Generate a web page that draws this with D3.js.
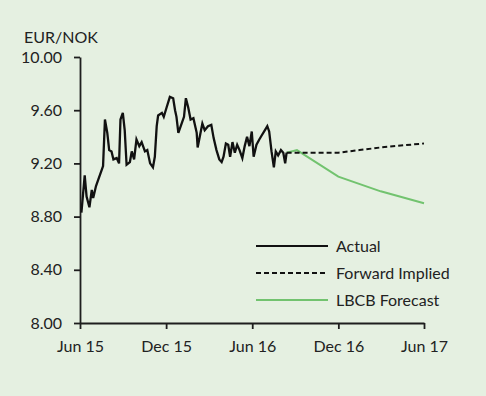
<!DOCTYPE html>
<html>
<head>
<meta charset="utf-8">
<script src="https://cdn.jsdelivr.net/npm/d3@7"></script>
<style>
    html, body { margin: 0; padding: 0; background: #e5f0e1; }
    svg { display: block; font-family: Lato, "Open Sans", sans-serif; }
    .axis path, .axis line { stroke: #1e1e1e; stroke-width: 1.8; }
    .axis text { fill: #222; font-size: 16px; font-family: Lato, sans-serif; }
</style>
</head>
<body>
<svg id="chart" width="486" height="396"></svg>
<script>
// EUR/NOK actual
let actualDates = [
    "2015-06-04","2015-06-11","2015-06-15","2015-06-21","2015-06-26","2015-06-29","2015-07-05","2015-07-10",
    "2015-07-17","2015-07-20","2015-07-24","2015-07-29","2015-08-02","2015-08-07","2015-08-11","2015-08-18",
    "2015-08-23","2015-08-26","2015-08-31","2015-09-04","2015-09-08","2015-09-15","2015-09-19","2015-09-24",
    "2015-09-29","2015-10-05","2015-10-10","2015-10-17","2015-10-22","2015-10-28","2015-11-03","2015-11-07",
    "2015-11-11","2015-11-14","2015-11-22","2015-11-26","2015-12-02","2015-12-09","2015-12-16","2015-12-20",
    "2015-12-23","2015-12-27","2016-01-02","2016-01-08","2016-01-12","2016-01-17","2016-01-22","2016-01-28",
    "2016-02-04","2016-02-06","2016-02-11","2016-02-16","2016-02-21","2016-02-28","2016-03-06","2016-03-11",
    "2016-03-17","2016-03-23","2016-03-28","2016-04-01","2016-04-06","2016-04-11","2016-04-15","2016-04-20",
    "2016-04-25","2016-04-30","2016-05-05","2016-05-11","2016-05-16","2016-05-21","2016-05-26","2016-05-31",
    "2016-06-04","2016-06-10","2016-06-16","2016-06-21","2016-06-28","2016-07-03","2016-07-07","2016-07-12",
    "2016-07-17","2016-07-21","2016-07-26","2016-08-01","2016-08-06","2016-08-10","2016-08-13"
];
let actualValues = [
    8.83, 9.11, 8.95, 8.87, 9.00, 8.94, 9.03, 9.08,
    9.15, 9.18, 9.53, 9.43, 9.30, 9.29, 9.23, 9.24,
    9.20, 9.53, 9.58, 9.45, 9.19, 9.21, 9.29, 9.23,
    9.38, 9.33, 9.36, 9.29, 9.30, 9.20, 9.17, 9.25,
    9.48, 9.56, 9.58, 9.55, 9.62, 9.70, 9.69, 9.60,
    9.55, 9.43, 9.49, 9.55, 9.69, 9.62, 9.53, 9.54,
    9.43, 9.32, 9.41, 9.50, 9.45, 9.48, 9.49, 9.39,
    9.30, 9.23, 9.21, 9.25, 9.35, 9.34, 9.25, 9.36,
    9.28, 9.34, 9.30, 9.24, 9.33, 9.40, 9.33, 9.44,
    9.25, 9.34, 9.38, 9.41, 9.45, 9.48, 9.44, 9.29,
    9.17, 9.29, 9.26, 9.30, 9.28, 9.20, 9.28
];

// forward implied
let forwardDates = ["2016-08-13", "2016-12-01", "2017-01-15", "2017-03-01", "2017-06-01"];
let forwardValues = [9.28, 9.28, 9.30, 9.32, 9.35];

// LBCB forecast
let forecastDates = ["2016-08-13", "2016-09-04", "2016-12-01", "2017-03-01", "2017-06-01"];
let forecastValues = [9.28, 9.30, 9.10, 8.99, 8.90];

let yTicks = [8.0, 8.4, 8.8, 9.2, 9.6, 10.0];
let xTickDates = ["2015-06-01", "2015-12-01", "2016-06-01", "2016-12-01", "2017-06-01"];
let xTickLabels = ["Jun 15", "Dec 15", "Jun 16", "Dec 16", "Jun 17"];

let legendItems = [
    {name: "Actual", color: "#111", dash: null},
    {name: "Forward Implied", color: "#111", dash: "5,3"},
    {name: "LBCB Forecast", color: "#72c36f", dash: null}
];

let parseDate = d3.timeParse("%Y-%m-%d");
let margin = {top: 57, right: 62, bottom: 73, left: 80};
let width = 486;
let height = 396;

let svg = d3.select("#chart");

let xScale = d3.scaleTime()
    .domain([parseDate("2015-06-01"), parseDate("2017-06-01")])
    .range([margin.left, width - margin.right]);
let yScale = d3.scaleLinear()
    .domain([8, 10])
    .range([height - margin.bottom, margin.top]);

function toPoints(dates, values){
    return dates.map((d, i) => ({date: parseDate(d), value: values[i]}));
}

let line = d3.line()
    .x(d => xScale(d.date))
    .y(d => yScale(d.value));

// axes
let yAxis = d3.axisLeft(yScale)
    .tickValues(yTicks)
    .tickFormat(d3.format(".2f"))
    .tickSize(6)
    .tickSizeOuter(0)
    .tickPadding(12);
let xAxis = d3.axisBottom(xScale)
    .tickValues(xTickDates.map(parseDate))
    .tickFormat((d, i) => xTickLabels[i])
    .tickSize(6)
    .tickSizeOuter(0)
    .tickPadding(12);

svg.append("g")
    .attr("class", "y axis")
    .attr("transform", "translate(" + margin.left + ",0)")
    .call(yAxis);
svg.append("g")
    .attr("class", "x axis")
    .attr("transform", "translate(0," + (height - margin.bottom) + ")")
    .call(xAxis);

svg.append("text")
    .attr("x", 24)
    .attr("y", 43)
    .attr("fill", "#222")
    .style("font-size", "16px")
    .text("EUR/NOK");

// series
svg.append("path")
    .datum(toPoints(forecastDates, forecastValues))
    .attr("d", line)
    .attr("fill", "none")
    .attr("stroke", "#72c36f")
    .attr("stroke-width", 2);

svg.append("path")
    .datum(toPoints(forwardDates, forwardValues))
    .attr("d", line)
    .attr("fill", "none")
    .attr("stroke", "#111")
    .attr("stroke-width", 2)
    .attr("stroke-dasharray", "5,3");

svg.append("path")
    .datum(toPoints(actualDates, actualValues))
    .attr("d", line)
    .attr("fill", "none")
    .attr("stroke", "#111")
    .attr("stroke-width", 2.3)
    .attr("stroke-linejoin", "miter");

// legend
let legend = svg.append("g")
    .attr("transform", "translate(256,246)");
let rows = legend.selectAll("g")
    .data(legendItems)
    .enter()
    .append("g")
    .attr("transform", (d, i) => "translate(0," + (i * 27) + ")");
rows.append("line")
    .attr("x1", 0)
    .attr("x2", 72)
    .attr("stroke", d => d.color)
    .attr("stroke-width", 2)
    .attr("stroke-dasharray", d => d.dash);
rows.append("text")
    .attr("x", 80)
    .attr("dy", "0.35em")
    .attr("fill", "#222")
    .style("font-size", "16px")
    .text(d => d.name);
</script>
</body>
</html>
